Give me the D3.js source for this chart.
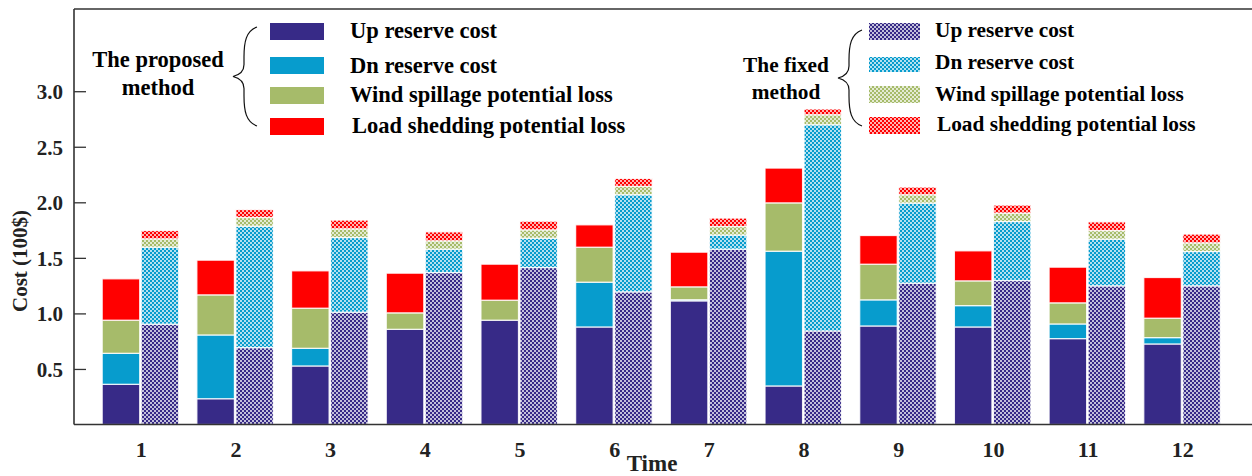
<!DOCTYPE html>
<html><head><meta charset="utf-8">
<script src="https://cdn.jsdelivr.net/npm/d3@7"></script>
<style>
body{margin:0;background:#fff;}
svg{display:block;font-family:"Liberation Serif","Times New Roman",serif;font-weight:bold;}
</style></head><body>
<svg id="c" width="1252" height="476"></svg>
<script>
const times = [1,2,3,4,5,6,7,8,9,10,11,12];
const seriesKeys = ["up","dn","wind","load"];
const seriesNames = ["Up reserve cost","Dn reserve cost","Wind spillage potential loss","Load shedding potential loss"];
const colors = ["#372a87","#079ccd","#a6bb6a","#ff0000"];
// proposed method
const propUp   = [0.362,0.232,0.527,0.857,0.939,0.878,1.113,0.347,0.887,0.878,0.773,0.725];
const propDn   = [0.279,0.574,0.159,0.000,0.000,0.403,0.010,1.213,0.235,0.192,0.132,0.057];
const propWind = [0.298,0.361,0.361,0.148,0.180,0.315,0.116,0.435,0.321,0.223,0.190,0.175];
const propLoad = [0.372,0.312,0.336,0.357,0.324,0.201,0.312,0.313,0.258,0.270,0.321,0.366];
// fixed method
const fixUp   = [0.903,0.692,1.011,1.368,1.413,1.194,1.578,0.842,1.272,1.296,1.248,1.248];
const fixDn   = [0.693,1.093,0.672,0.210,0.264,0.874,0.127,1.856,0.721,0.531,0.420,0.309];
const fixWind = [0.075,0.078,0.078,0.075,0.075,0.075,0.077,0.090,0.075,0.076,0.078,0.078];
const fixLoad = [0.075,0.072,0.079,0.081,0.078,0.072,0.076,0.052,0.069,0.072,0.078,0.079];
const yTicks = [0.5,1.0,1.5,2.0,2.5,3.0];

const svg = d3.select("#c");
const mLeft = 74, mRight = 1252, mTop = 9, mBottom = 424.5;
const y = d3.scaleLinear().domain([0,3.74]).range([mBottom, mTop]);
const x = d3.scalePoint().domain(times).range([140.7, 1182.3]);
const bw = 37.5;

// patterns
const defs = svg.append("defs");
colors.forEach((c,i)=>{
  const p = defs.append("pattern").attr("id","pat"+i).attr("patternUnits","userSpaceOnUse")
    .attr("width",4).attr("height",4);
  p.append("rect").attr("width",4).attr("height",4).attr("fill",c);
  p.append("rect").attr("x",0).attr("y",0).attr("width",2).attr("height",2).attr("fill","#fff").attr("opacity",0.7);
  p.append("rect").attr("x",2).attr("y",2).attr("width",2).attr("height",2).attr("fill","#fff").attr("opacity",0.7);
});

function rows(u,d,w,l){ return times.map((t,i)=>({t, up:u[i], dn:d[i], wind:w[i], load:l[i]})); }
const stack = d3.stack().keys(seriesKeys);
const propStack = stack(rows(propUp,propDn,propWind,propLoad));
const fixStack = stack(rows(fixUp,fixDn,fixWind,fixLoad));

function drawBars(st, off, fillFn){
  svg.append("g").selectAll("g").data(st).join("g")
    .attr("fill",(d,i)=>fillFn(i))
    .selectAll("rect").data(d=>d).join("rect")
    .attr("x",d=>x(d.data.t)+off)
    .attr("width",bw)
    .attr("y",d=>y(d[1]))
    .attr("height",d=>Math.max(0,y(d[0])-y(d[1])))
    .attr("stroke","#fff").attr("stroke-width",1.2).attr("stroke-opacity",0.85);
}
drawBars(propStack, -38.5, i=>colors[i]);
drawBars(fixStack, 0.5, i=>"url(#pat"+i+")");

// axes
const yAxis = d3.axisLeft(y).tickValues(yTicks).tickFormat(d3.format(".1f"))
  .tickSizeInner(-12).tickSizeOuter(0).tickPadding(11);
const gy = svg.append("g").attr("transform",`translate(${mLeft},0)`).call(yAxis);
gy.select(".domain").remove();
gy.selectAll("line").attr("stroke","#333").attr("stroke-width",1.3);
gy.selectAll("text").attr("font-size",21).attr("font-family","Liberation Serif").attr("font-weight","bold").attr("fill","#222").attr("dy","0.35em");

const xAxis = d3.axisBottom(x).tickSize(0).tickPadding(0);
const gx = svg.append("g").attr("transform",`translate(0,${mBottom})`).call(xAxis);
gx.select(".domain").remove();
gx.selectAll("text").attr("font-size",22).attr("font-family","Liberation Serif").attr("font-weight","bold").attr("fill","#222").attr("y",32.5).attr("dy",0);

// frame lines
svg.append("line").attr("x1",mLeft).attr("x2",mRight).attr("y1",mBottom).attr("y2",mBottom).attr("stroke","#333").attr("stroke-width",1.6);
svg.append("line").attr("x1",mLeft).attr("x2",mLeft).attr("y1",mTop).attr("y2",mBottom).attr("stroke","#333").attr("stroke-width",1.6);
svg.append("line").attr("x1",mLeft).attr("x2",mRight).attr("y1",mTop).attr("y2",mTop).attr("stroke","#333").attr("stroke-width",1.3);

// axis titles
svg.append("text").attr("transform","translate(27,261) rotate(-90)").attr("text-anchor","middle")
  .attr("font-size",21).attr("fill","#222").text("Cost (100$)");
svg.append("text").attr("x",652).attr("y",471).attr("text-anchor","middle")
  .attr("font-size",23).attr("fill","#222").text("Time");

// legends
function brace(g, xr, yt, yb, xp){
  const ym = (yt+yb)/2, xm = xr-13;
  g.append("path").attr("fill","none").attr("stroke","#111").attr("stroke-width",1.2)
   .attr("d",`M${xr},${yt} C${xm+2},${yt+4} ${xm},${yt+15} ${xm},${yt+30} L${xm},${ym-12} C${xm},${ym-4} ${xp+4},${ym-1} ${xp},${ym} C${xp+4},${ym+1} ${xm},${ym+4} ${xm},${ym+12} L${xm},${yb-30} C${xm},${yb-15} ${xm+2},${yb-4} ${xr},${yb}`);
}
const lp = svg.append("g");
lp.append("text").attr("x",158).attr("y",67).attr("text-anchor","middle").attr("font-size",22.5).text("The proposed");
lp.append("text").attr("x",158).attr("y",95).attr("text-anchor","middle").attr("font-size",22.5).text("method");
brace(lp, 257, 27, 126, 233);
const propSw = [23,57,87,118];
const propTx = [38,73,102,133];
seriesNames.forEach((n,i)=>{
  lp.append("rect").attr("x",270).attr("y",propSw[i]).attr("width",54).attr("height",17).attr("fill",colors[i]);
  lp.append("text").attr("x",i===3?352:350).attr("y",propTx[i]).attr("font-size",22.5).text(n);
});
const lf = svg.append("g");
lf.append("text").attr("x",786).attr("y",71.5).attr("text-anchor","middle").attr("font-size",21.3).text("The fixed");
lf.append("text").attr("x",786).attr("y",99).attr("text-anchor","middle").attr("font-size",21.3).text("method");
brace(lf, 862, 30, 126, 838);
const fixSw = [23,57,86,117];
const fixTx = [37,69,101,131];
seriesNames.forEach((n,i)=>{
  lf.append("rect").attr("x",869).attr("y",fixSw[i]).attr("width",51).attr("height",i===1?15:17).attr("fill","url(#pat"+i+")");
  lf.append("text").attr("x",i===3?937:935).attr("y",fixTx[i]).attr("font-size",21.3).text(n);
});
</script>
</body></html>
